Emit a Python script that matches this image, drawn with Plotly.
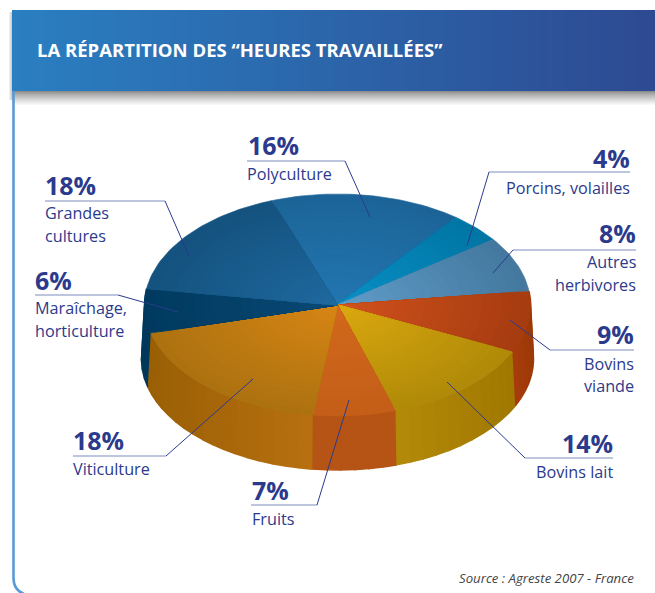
import math
import plotly.graph_objects as go

# ---- data ----
categories = ["Polyculture", "Porcins, volailles", "Autres herbivores", "Bovins viande",
              "Bovins lait", "Fruits", "Viticulture", "Maraîchage, horticulture", "Grandes cultures"]
percent_labels = ["16%", "4%", "8%", "9%", "14%", "7%", "18%", "6%", "18%"]
# share of the ellipse actually drawn for each slice (as measured on the picture)
drawn_shares = [16.1, 4.4, 8.1, 8.9, 13.2, 6.9, 18.9, 6.4, 17.1]

# ---- styles ----
top_inner = ["#2277b2", "#0a90c6", "#5f9eca", "#d2521d", "#dca90f", "#d2691b", "#d88614", "#0a4a75", "#1f6aa0"]
top_outer = ["#1c6498", "#0076a4", "#44789f", "#a63c10", "#b08a08", "#c45e18", "#ad7210", "#003a60", "#14527f"]
wall_a = ["#1c6498", "#0076a4", "#44789f", "#a83c0c", "#b38a08", "#b55415", "#9a5f05", "#00385c", "#14527f"]
wall_b = ["#1c6498", "#0076a4", "#44789f", "#9c3a08", "#a07800", "#b55415", "#b87010", "#00385c", "#14527f"]
TXT = "#2b3a8c"
RULE = "#7f8dc0"
FONT = "Open Sans"

CX, CY, A, B = 337.5, 305, 193, 111
BCX, BCY, BA, BB = 337.5, 359, 196, 111
START = 110.0
BANDS = 20


def hex2rgb(c):
    return tuple(int(c[i:i + 2], 16) for i in (1, 3, 5))


def mix(c1, c2, t):
    a, b = hex2rgb(c1), hex2rgb(c2)
    return "rgb(%d,%d,%d)" % tuple(round(a[i] + (b[i] - a[i]) * t) for i in range(3))


def poly(fig, xs, ys, color, lw=0.6):
    fig.add_trace(go.Scatter(x=xs, y=ys, mode="lines", fill="toself", fillcolor=color,
                             line=dict(color=color, width=lw), hoverinfo="skip", showlegend=False))


fig = go.Figure()

# slice angular limits from the shares
limits = []
ang = START
for s in drawn_shares:
    nxt = ang - s * 3.6
    limits.append((ang, nxt))
    ang = nxt

# walls
for i, (a0, a1) in enumerate(limits):
    n = max(2, int(abs(a1 - a0) / 4))
    for k in range(n):
        t0 = a0 + (a1 - a0) * k / n
        t1 = a0 + (a1 - a0) * (k + 1) / n
        if math.sin(math.radians((t0 + t1) / 2)) > 0.12:
            continue
        r0, r1 = math.radians(t0), math.radians(t1)
        lo = min(math.cos(math.radians(a0)), math.cos(math.radians(a1)))
        hi = max(math.cos(math.radians(a0)), math.cos(math.radians(a1)))
        u = (math.cos((r0 + r1) / 2) - lo) / (hi - lo) if hi > lo else 0.5
        poly(fig,
             [CX + A * math.cos(r0), CX + A * math.cos(r1), BCX + BA * math.cos(r1), BCX + BA * math.cos(r0)],
             [CY - B * math.sin(r0), CY - B * math.sin(r1), BCY - BB * math.sin(r1), BCY - BB * math.sin(r0)],
             mix(wall_a[i], wall_b[i], u), lw=1.6)

# top faces: nested wedges from the rim to the centre
for i, (a0, a1) in enumerate(limits):
    for b in range(BANDS):
        f = 1 - b / BANDS
        n = max(4, int(abs(a1 - a0) / 1.5))
        xs, ys = [CX], [CY]
        for k in range(n + 1):
            r = math.radians(a0 + (a1 - a0) * k / n)
            xs.append(CX + A * f * math.cos(r))
            ys.append(CY - B * f * math.sin(r))
        xs.append(CX)
        ys.append(CY)
        poly(fig, xs, ys, mix(top_inner[i], top_outer[i], f))

# leader lines: rule under the figure, then the slanted part
leaders = [
    ((247, 161), (345, 161), (370, 217)),
    ((489, 172), (630, 172), (467, 246)),
    ((513, 250), (636, 250), (493, 273)),
    ((550, 350), (634, 350), (510, 320)),
    ((525, 458), (613, 458), (447, 382)),
    ((251, 505), (317, 505), (349, 400)),
    ((73, 456), (166, 456), (253, 379)),
    ((35, 295), (118, 295), (178, 312)),
    ((45, 201), (165, 201), (189, 256)),
]
for i, (p, q, tip) in enumerate(leaders):
    fig.add_trace(go.Scatter(x=[p[0], q[0]], y=[p[1], q[1]], mode="lines",
                             line=dict(color=RULE, width=1.2), hoverinfo="skip", showlegend=False))
    start = p if i in (1, 2, 3, 4) else q
    fig.add_trace(go.Scatter(x=[start[0], tip[0]], y=[start[1], tip[1]], mode="lines",
                             line=dict(color=TXT, width=1), hoverinfo="skip", showlegend=False))

shapes = []
# header gradient and shadow
for x in range(12, 655, 2):
    shapes.append(dict(type="rect", x0=x, x1=x + 2, y0=10, y1=91, line_width=0, layer="below",
                       fillcolor=mix("#2a7fc1", "#2d4a92", (x - 12) / 642)))
for k in range(15):
    shapes.append(dict(type="rect", x0=12, x1=655, y0=91 + k, y1=92 + k, line_width=0, layer="below",
                       fillcolor=mix("#8c8c8c", "#ffffff", (k / 14) ** 0.8)))
for k in range(4):
    shapes.append(dict(type="rect", x0=8 + k, x1=9 + k, y0=12, y1=100, line_width=0, layer="below",
                       fillcolor=mix("#ffffff", "#cfcfcf", k / 3)))
shapes.append(dict(type="path", path="M 13.5 91 L 13.5 578 Q 13.5 590 24 594",
                   line=dict(color="#5b9bd5", width=2.6), layer="above"))

# text
ann = []


def text(x, y, s, size, anchor="left", bold=False, color=TXT, italic=False, family=FONT):
    if bold:
        s = "<b>%s</b>" % s
    if italic:
        s = "<i>%s</i>" % s
    ann.append(dict(x=x, y=y, text=s, xref="x", yref="y", showarrow=False, xanchor=anchor, yanchor="middle",
                    font=dict(size=size, color=color, family=family), borderpad=0, borderwidth=0))


text(37, 49, "LA RÉPARTITION DES “HEURES TRAVAILLÉES”", 18.5, bold=True, color="#ffffff")
text(634, 578, "Source : Agreste 2007 - France", 13.2, anchor="right", italic=True, color="#444444")

placements = [
    (248, 145, "left", [(247, 174)], ["Polyculture"]),
    (630, 158, "right", [(630, 188)], ["Porcins, volailles"]),
    (636, 233, "right", [(636, 262), (636, 285)], ["Autres", "herbivores"]),
    (634, 334, "right", [(634, 364), (634, 386)], ["Bovins", "viande"]),
    (613, 443, "right", [(613, 472)], ["Bovins lait"]),
    (252, 490, "left", [(252, 519)], ["Fruits"]),
    (73, 440, "left", [(73, 469)], ["Viticulture"]),
    (35, 280, "left", [(35, 308), (35, 331)], ["Maraîchage,", "horticulture"]),
    (45, 185, "left", [(45, 213), (45, 236)], ["Grandes", "cultures"]),
]
for pct, (x, y, anc, pos, lines) in zip(percent_labels, placements):
    text(x, y, pct, 25, anchor=anc, bold=True)
    for (lx, ly), line in zip(pos, lines):
        text(lx, ly, line, 16.2, anchor=anc)

fig.update_layout(
    width=655, height=593, margin=dict(l=0, r=0, t=0, b=0),
    paper_bgcolor="white", plot_bgcolor="white", showlegend=False,
    xaxis=dict(range=[0, 655], visible=False, fixedrange=True),
    yaxis=dict(range=[593, 0], visible=False, fixedrange=True),
    shapes=shapes, annotations=ann, hovermode=False,
)
fig.write_html("out.html", config=dict(displayModeBar=False),
               post_script="document.body.style.margin='0';document.body.style.overflow='hidden';")
